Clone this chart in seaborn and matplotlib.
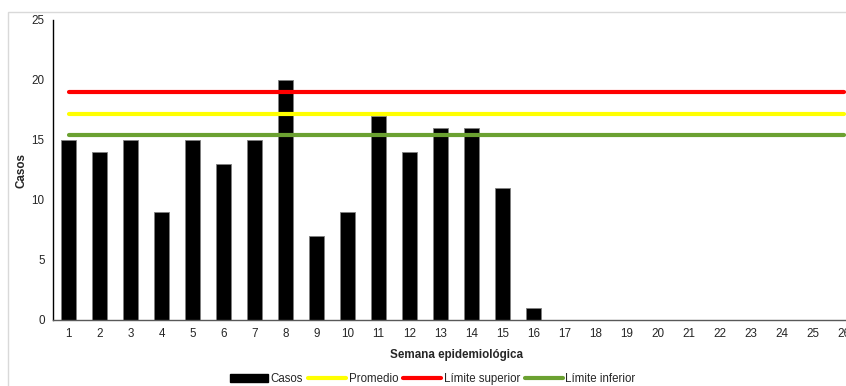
import matplotlib
matplotlib.use("Agg")
import matplotlib.pyplot as plt
from matplotlib.patches import Rectangle, Patch
from matplotlib.lines import Line2D
import pandas as pd
import seaborn as sns

sns.set_style("white")
plt.rcParams["font.family"] = ["Liberation Sans", "DejaVu Sans"]

semanas = list(range(1, 27))
casos = [15, 14, 15, 9, 15, 13, 15, 20, 7, 9, 17, 14, 16, 16, 11, 1,
         0, 0, 0, 0, 0, 0, 0, 0, 0, 0]
promedio = 17.2
limite_superior = 19.0
limite_inferior = 15.4

df = pd.DataFrame({"semana": semanas, "casos": casos})
df["promedio"] = promedio
df["superior"] = limite_superior
df["inferior"] = limite_inferior

fig = plt.figure(figsize=(8.46, 3.86), dpi=100)
# chart area border (cut off on the right/bottom like the original)
fig.patches.append(Rectangle((8 / 846, -0.1), 1.2, (386 - 12) / 386 + 0.1,
                             transform=fig.transFigure, fill=False,
                             edgecolor="#d9d9d9", linewidth=1.0))

ax = fig.add_axes([53 / 846, 66 / 386, 806 / 846, 300 / 386])

sns.barplot(data=df, x="semana", y="casos", color="black", width=0.49,
            edgecolor="#7f7f7f", linewidth=0.6, saturation=1, ax=ax)

x = list(range(len(semanas)))
sns.lineplot(x=x, y=df["promedio"], color="#ffff00", linewidth=3, ax=ax)
sns.lineplot(x=x, y=df["superior"], color="#ff0000", linewidth=3, ax=ax)
sns.lineplot(x=x, y=df["inferior"], color="#6ba131", linewidth=3, ax=ax)

ax.set_xlim(-0.5, len(semanas) - 0.5)
ax.set_ylim(0, 25)
ax.set_yticks([0, 5, 10, 15, 20, 25])
ax.tick_params(axis="both", length=0, labelsize=8.4, pad=6)
ax.set_xlabel("Semana epidemiológica", fontsize=8.4, fontweight="bold", labelpad=6)
ax.set_ylabel("Casos", fontsize=8.4, fontweight="bold", labelpad=3)

for s in ["top", "right"]:
    ax.spines[s].set_visible(False)
ax.spines["left"].set_color("black")
ax.spines["left"].set_linewidth(1.0)
ax.spines["bottom"].set_color("#595959")
ax.spines["bottom"].set_linewidth(1.0)

handles = [
    Patch(facecolor="black", edgecolor="black"),
    Line2D([], [], color="#ffff00", linewidth=3),
    Line2D([], [], color="#ff0000", linewidth=3),
    Line2D([], [], color="#6ba131", linewidth=3),
]
labels = ["Casos", "Promedio", "Límite superior", "Límite inferior"]
fig.legend(handles, labels, loc="center", bbox_to_anchor=(433 / 846, 1 - 379 / 386),
           ncol=4, frameon=False, fontsize=8.3, handlelength=3.3,
           handleheight=0.6, handletextpad=0.2, columnspacing=0.45)

fig.savefig("out.png", dpi=100)
